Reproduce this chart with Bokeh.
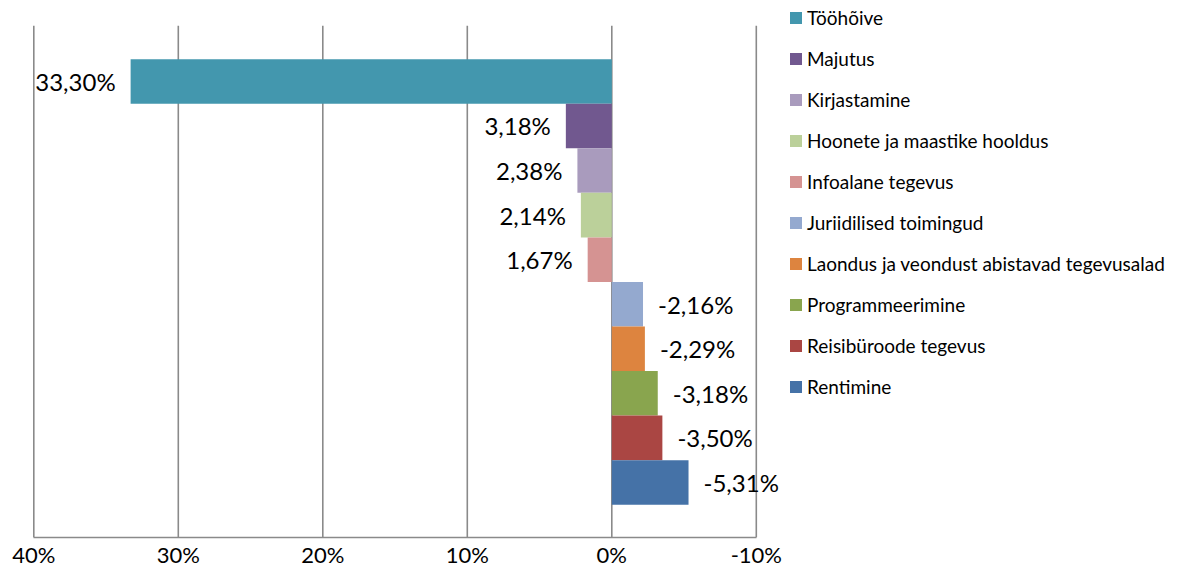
from bokeh.plotting import figure
from bokeh.models import ColumnDataSource, Range1d, FixedTicker, Legend, LegendItem
from bokeh.core.properties import value
from bokeh.embed import file_html
from bokeh.resources import INLINE

categories = ["Tööhõive", "Majutus", "Kirjastamine", "Hoonete ja maastike hooldus",
              "Infoalane tegevus", "Juriidilised toimingud",
              "Laondus ja veondust abistavad tegevusalad", "Programmeerimine",
              "Reisibüroode tegevus", "Rentimine"]
values = [33.30, 3.18, 2.38, 2.14, 1.67, -2.16, -2.29, -3.18, -3.50, -5.31]
colors = ["#4397AE", "#71588F", "#A99BBD", "#BBD09A", "#D59392", "#94A9CF",
          "#DD843F", "#89A54E", "#AA4643", "#4572A7"]
tick_values = [40, 30, 20, 10, 0, -10]
tick_labels = ["40%", "30%", "20%", "10%", "0%", "-10%"]

FONT = "Lato"
W, H = 1173, 570
BOTTOM = 30                 # space below the frame for tick labels
FRAME_H = H - BOTTOM
X_MAX, X_MIN = max(tick_values), min(tick_values)
X_LEFT_PX, X_RIGHT_PX = 33.3, 755.8      # pixel positions of 40% and -10%
k = (X_RIGHT_PX - X_LEFT_PX) / (X_MAX - X_MIN)
x_start = X_MAX + X_LEFT_PX / k
x_end = X_MAX - (W - X_LEFT_PX) / k

n = len(categories)
BAR_PX = 44.8
TOP_BAR_PX = 59.0
GRID_TOP_PX = 25.3
ypos = [n - 1 - i for i in range(n)]
y_top = (n - 0.5) + TOP_BAR_PX / BAR_PX
y_bottom = y_top - FRAME_H / BAR_PX
grid_top = y_top - GRID_TOP_PX / BAR_PX

labels = [f"{v:.2f}".replace(".", ",") + "%" for v in values]
align = ["right" if v > 0 else "left" for v in values]
xoff = [-15 if v > 0 else 15 for v in values]

src = ColumnDataSource(dict(y=ypos, v=values, c=colors, name=categories,
                            lab=labels, al=align, xo=xoff))

p = figure(width=W, height=H,
           x_range=Range1d(x_start, x_end), y_range=Range1d(y_bottom, y_top),
           output_backend="svg", toolbar_location=None,
           min_border_left=0, min_border_right=0,
           min_border_top=0, min_border_bottom=BOTTOM)
p.outline_line_color = None
p.background_fill_color = "white"
p.xgrid.visible = False
p.ygrid.visible = False
p.yaxis.visible = False

# vertical gridlines at the tick values
p.segment(x0=tick_values, x1=tick_values, y0=[y_bottom] * len(tick_values),
          y1=[grid_top] * len(tick_values), line_color="#8a8a8a", line_width=1.6)

r = p.hbar(y="y", left=0, right="v", height=1.0, fill_color="c",
           line_color=None, source=src)

p.text(x="v", y="y", text="lab", text_align="al", x_offset="xo",
       text_baseline="middle", text_font=value(FONT), text_font_size="24px",
       text_color="black", source=src)

ax = p.xaxis[0]
ax.bounds = (X_MIN, X_MAX)
ax.ticker = FixedTicker(ticks=tick_values)
ax.major_label_overrides = {t: l for t, l in zip(tick_values, tick_labels)}
ax.major_tick_out = 0
ax.major_tick_in = 0
ax.minor_tick_out = 0
ax.minor_tick_in = 0
ax.axis_line_color = "#8a8a8a"
ax.axis_line_width = 1.6
ax.major_label_standoff = 3
ax.major_label_text_font = FONT
ax.major_label_text_font_size = "22px"
ax.major_label_text_color = "black"

items = [LegendItem(label=categories[i], renderers=[r], index=i) for i in range(n)]
legend = Legend(items=items, location=(788, 139), orientation="vertical")
legend.padding = 0
legend.margin = 0
legend.spacing = 18
legend.glyph_width = 15
legend.glyph_height = 15
legend.label_height = 23
legend.label_standoff = 4
legend.label_text_font = FONT
legend.label_text_font_size = "19px"
legend.label_text_color = "black"
legend.border_line_color = None
legend.background_fill_alpha = 0
p.add_layout(legend, "center")

open("out.html", "w").write(file_html(p, INLINE))
